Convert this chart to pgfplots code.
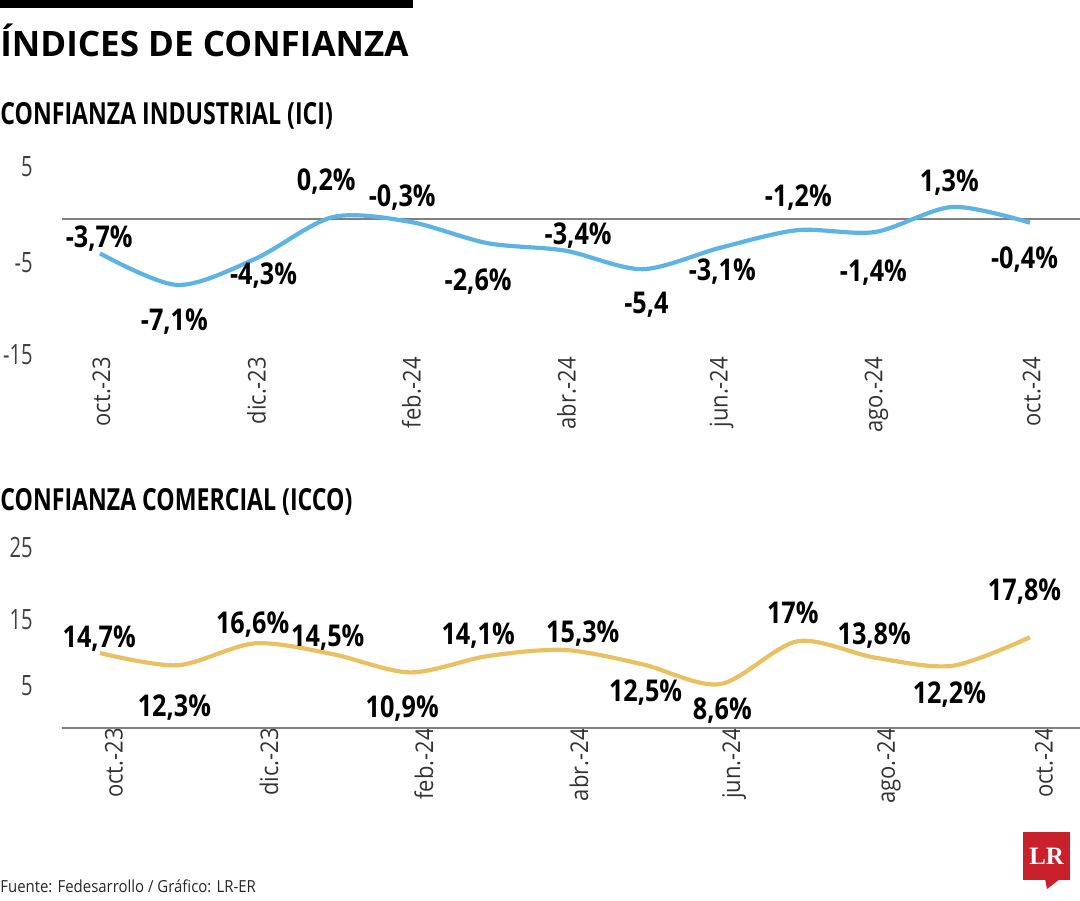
\documentclass[border=0pt]{standalone}
\usepackage{pgfplots}
\pgfplotsset{compat=1.18}
\usepackage{fontspec}
\setmainfont{Open Sans}
\newfontfamily\subfont{Open Sans}[FakeStretch=0.76]
\newfontfamily\lblfont{Open Sans}[FakeStretch=0.84]
\newfontfamily\yfont{Open Sans}[FakeStretch=0.72]
\newfontfamily\mfont{Open Sans}[FakeStretch=0.9]
\newfontfamily\lrfont{Liberation Serif}
\definecolor{iciblue}{HTML}{5DB3E4}
\definecolor{iccogold}{HTML}{E9C163}
\definecolor{zgray}{HTML}{808080}
\definecolor{lrred}{HTML}{C9212B}
\pgfplotsset{
  common/.style={
    x=38.75pt, xmin=-0.49, xmax=12.65,
    axis line style={draw=none}, major tick length=0pt,
    xtick={0,2,4,6,8,10,12},
    xticklabels={oct.-23,dic.-23,feb.-24,abr.-24,jun.-24,ago.-24,oct.-24},
    xticklabel style={rotate=90, anchor=east, inner sep=0pt, font=\mfont\fontsize{12.2}{12.2}\selectfont, text=black!80},
    yticklabel style={anchor=east, inner sep=0pt, xshift=-14.5pt, font=\yfont\fontsize{14}{14}\selectfont, text=black!75},
    clip=false,
  },
}
\tikzset{lbl/.style={font=\lblfont\bfseries\fontsize{15}{15}\selectfont, inner sep=0pt}}
\begin{document}
\begin{tikzpicture}[x=1pt,y=1pt]
\useasboundingbox (0,0) rectangle (540,-450);
\fill[black] (0,0) rectangle (206.5,-4);
\node[anchor=base west, inner sep=0pt, font=\bfseries\fontsize{17.5}{17.5}\selectfont] at (0,-28) {ÍNDICES DE CONFIANZA};
\node[anchor=base west, inner sep=0pt, font=\subfont\bfseries\fontsize{15.2}{15.2}\selectfont] at (0,-62) {CONFIANZA INDUSTRIAL (ICI)};
\node[anchor=base west, inner sep=0pt, font=\subfont\bfseries\fontsize{15.2}{15.2}\selectfont] at (0,-255) {CONFIANZA COMERCIAL (ICCO)};

% ---------- ICI ----------
\begin{axis}[common,
  at={(31pt,-178.25pt)}, anchor=south west,
  y=4.645pt, ymin=-14.8, ymax=6,
  ytick={5.6,-4.7,-14.6}, yticklabels={5,-5,-15},
  xticklabel style={yshift=-0.8pt},
]
\addplot[zgray, line width=1pt] coordinates {(-0.49,0) (12.65,0)};
\addplot[iciblue, line width=2.1pt, smooth] coordinates {
(0,-3.7) (1,-7.1) (2,-4.3) (3,0.2) (4,-0.3) (5,-2.6) (6,-3.4) (7,-5.4) (8,-3.1) (9,-1.2) (10,-1.4) (11,1.3) (12,-0.4)};
\node[lbl] at (axis cs:-0.01,-2.15) {-3,7\%};
\node[lbl] at (axis cs:0.96,-11.09) {-7,1\%};
\node[lbl] at (axis cs:2.11,-6.14) {-4,3\%};
\node[lbl] at (axis cs:2.92,3.98) {0,2\%};
\node[lbl] at (axis cs:3.90,2.26) {-0,3\%};
\node[lbl] at (axis cs:4.88,-6.78) {-2,6\%};
\node[lbl] at (axis cs:6.17,-1.83) {-3,4\%};
\node[lbl] at (axis cs:7.05,-9.26) {-5,4};
\node[lbl] at (axis cs:8.03,-5.71) {-3,1\%};
\node[lbl] at (axis cs:9.01,2.26) {-1,2\%};
\node[lbl] at (axis cs:9.98,-5.81) {-1,4\%};
\node[lbl] at (axis cs:10.96,3.88) {1,3\%};
\node[lbl] at (axis cs:11.93,-4.41) {-0,4\%};
\end{axis}

% ---------- ICCO ----------
\begin{axis}[common,
  at={(31pt,-364pt)}, anchor=south west,
  y=2.55pt, ymin=0, ymax=36,
  ytick={35.3,21.2,8.4}, yticklabels={25,15,5},
  xticklabel style={yshift=-7pt},
]
\addplot[zgray, line width=1pt] coordinates {(-0.49,0) (12.65,0)};
\addplot[iccogold, line width=2.1pt, smooth] coordinates {
(0,14.7) (1,12.3) (2,16.6) (3,14.5) (4,10.9) (5,14.1) (6,15.3) (7,12.5) (8,8.6) (9,17) (10,13.8) (11,12.2) (12,17.8)};
\node[lbl] at (axis cs:-0.01,17.6) {14,7\%};
\node[lbl] at (axis cs:0.96,4.1) {12,3\%};
\node[lbl] at (axis cs:1.97,20.2) {16,6\%};
\node[lbl] at (axis cs:2.94,17.8) {14,5\%};
\node[lbl] at (axis cs:3.90,3.9) {10,9\%};
\node[lbl] at (axis cs:4.88,18.2) {14,1\%};
\node[lbl] at (axis cs:6.23,18.6) {15,3\%};
\node[lbl] at (axis cs:7.04,6.9) {12,5\%};
\node[lbl] at (axis cs:8.03,3.5) {8,6\%};
\node[lbl] at (axis cs:8.94,22.5) {17\%};
\node[lbl] at (axis cs:9.99,18.2) {13,8\%};
\node[lbl] at (axis cs:10.96,6.5) {12,2\%};
\node[lbl] at (axis cs:11.93,26.7) {17,8\%};
\end{axis}

\node[anchor=base west, inner sep=0pt, font=\mfont\fontsize{8.3}{8.3}\selectfont, text=black!85] at (0,-446) {Fuente: Fedesarrollo / Gráfico: LR-ER};
% logo
\fill[lrred] (511.5,-416) rectangle (535,-440);
\fill[lrred] (522.5,-439.5) -- (530,-439.5) -- (523.5,-444.5) -- cycle;
\node[text=white, inner sep=0pt, font=\lrfont\bfseries\fontsize{12.5}{12.5}\selectfont] at (523.3,-428) {LR};
\end{tikzpicture}
\end{document}
